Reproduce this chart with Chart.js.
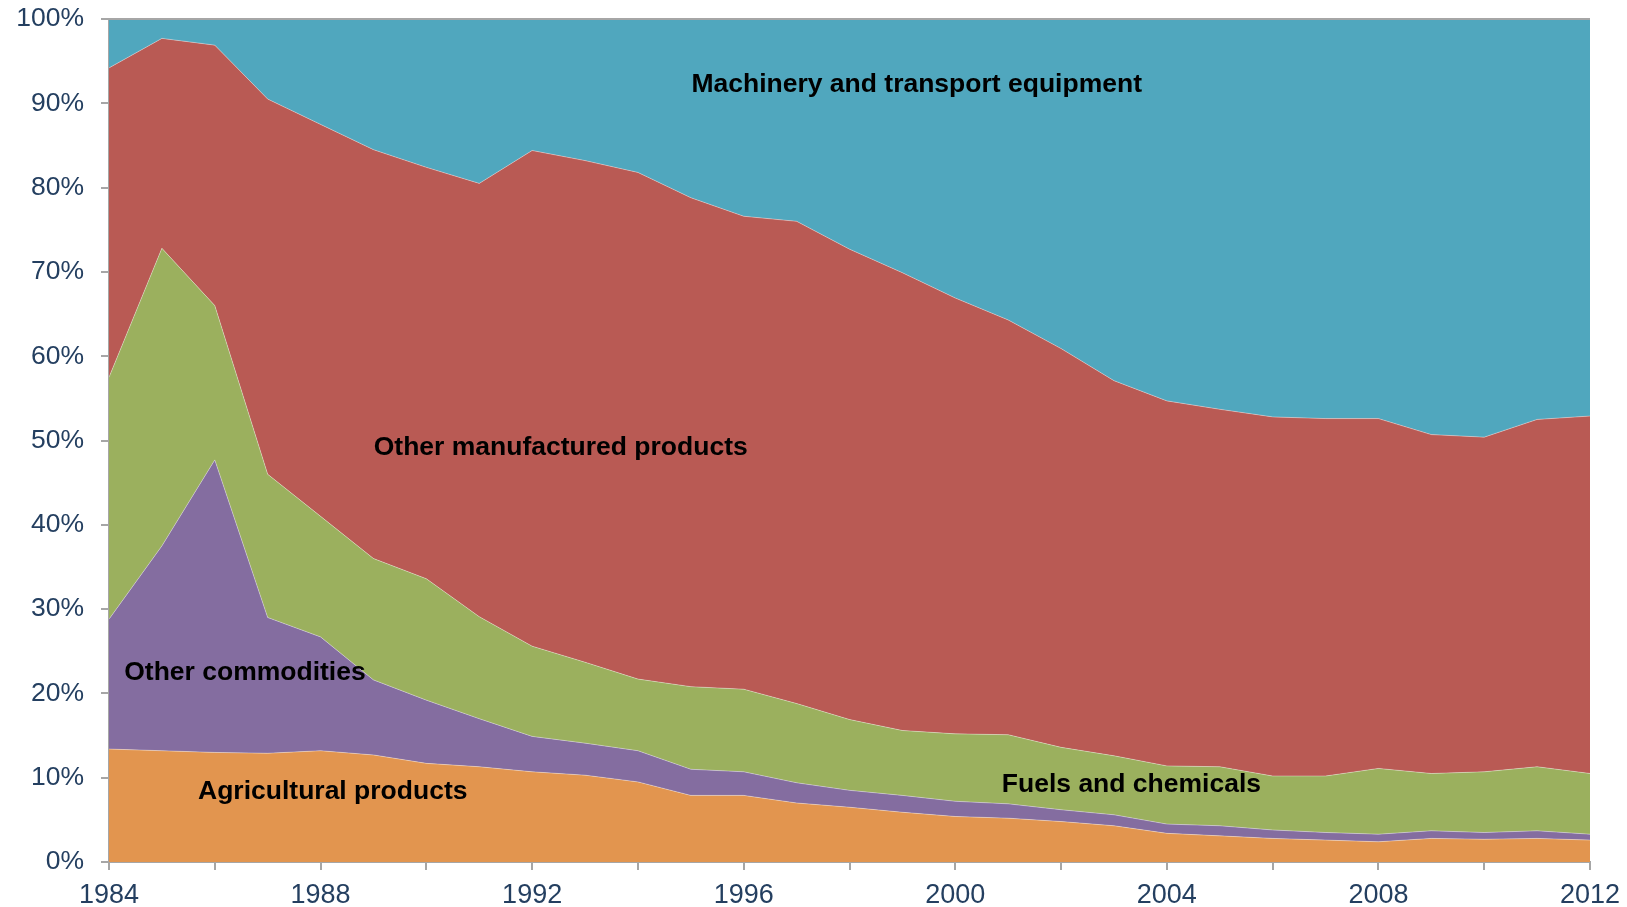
<!DOCTYPE html>
<html>
<head>
<meta charset="utf-8">
<title>Export composition 1984-2012</title>
<script src="https://cdn.jsdelivr.net/npm/chart.js@4.4.1/dist/chart.umd.min.js"></script>
<style>
  html, body { margin: 0; padding: 0; background: #fff; }
  #wrap { width: 1627px; height: 907px; }
</style>
</head>
<body>
<div id="wrap"><canvas id="chart" width="1627" height="907"></canvas></div>
<script>
// shares of total exports, %
const years = [1984, 1985, 1986, 1987, 1988, 1989, 1990, 1991, 1992, 1993, 1994, 1995, 1996, 1997, 1998,
  1999, 2000, 2001, 2002, 2003, 2004, 2005, 2006, 2007, 2008, 2009, 2010, 2011, 2012];

const agricultural = [13.4, 13.2, 13.0, 12.9, 13.2, 12.7, 11.7, 11.3, 10.7, 10.3, 9.5, 7.9, 7.9, 7.0, 6.5,
  5.9, 5.4, 5.2, 4.8, 4.3, 3.4, 3.1, 2.8, 2.6, 2.4, 2.8, 2.7, 2.8, 2.6];
const otherCommodities = [15.4, 24.3, 34.7, 16.1, 13.5, 8.9, 7.5, 5.7, 4.2, 3.8, 3.7, 3.1, 2.8, 2.4, 2.0,
  2.0, 1.8, 1.7, 1.4, 1.3, 1.1, 1.2, 1.0, 0.9, 0.9, 0.9, 0.8, 0.9, 0.7];
const fuelsChemicals = [28.7, 35.3, 18.3, 17.0, 14.3, 14.4, 14.4, 12.1, 10.7, 9.6, 8.5, 9.8, 9.8, 9.4, 8.4,
  7.7, 8.0, 8.2, 7.4, 7.0, 6.9, 7.0, 6.4, 6.7, 7.8, 6.8, 7.2, 7.6, 7.2];
const otherManufactured = [36.7, 24.9, 30.9, 44.5, 46.5, 48.5, 48.8, 51.4, 58.8, 59.5, 60.1, 58.0, 56.1, 57.2, 55.8,
  54.3, 51.7, 49.2, 47.3, 44.5, 43.3, 42.4, 42.6, 42.4, 41.5, 40.2, 39.7, 41.2, 42.4];
const machinery = [5.8, 2.3, 3.1, 9.5, 12.5, 15.5, 17.6, 19.5, 15.6, 16.8, 18.2, 21.2, 23.4, 24.0, 27.3,
  30.1, 33.1, 35.7, 39.1, 42.9, 45.3, 46.3, 47.2, 47.4, 47.4, 49.3, 49.6, 47.5, 47.1];

const yTicks = [0, 10, 20, 30, 40, 50, 60, 70, 80, 90, 100];

// in-chart labels, placed in data units (year, %)
const areaLabels = [
  { text: 'Machinery and transport equipment', year: 1999.27, pct: 92.2 },
  { text: 'Other manufactured products', year: 1992.54, pct: 49.2 },
  { text: 'Other commodities', year: 1986.57, pct: 22.4 },
  { text: 'Agricultural products', year: 1988.23, pct: 8.4 },
  { text: 'Fuels and chemicals', year: 2003.33, pct: 9.2 }
];

const FONT = '"Liberation Sans", Arial, sans-serif';
const AXIS_GREY = '#a6a6a6';
const TICK_TEXT = '#243f60';

function area(label, data, color, first) {
  return {
    label,
    data,
    backgroundColor: color,
    borderColor: 'rgba(255,255,255,0.35)',
    borderWidth: 1,
    pointRadius: 0,
    tension: 0,
    fill: first ? 'origin' : '-1'
  };
}

const labelPlugin = {
  id: 'areaLabels',
  afterDatasetsDraw(chart) {
    const { ctx, chartArea, scales: { x, y } } = chart;
    ctx.save();
    // top frame line
    ctx.strokeStyle = AXIS_GREY;
    ctx.lineWidth = 2;
    ctx.beginPath();
    ctx.moveTo(chartArea.left, chartArea.top);
    ctx.lineTo(chartArea.right, chartArea.top);
    ctx.stroke();

    ctx.font = 'bold 26.5px ' + FONT;
    ctx.fillStyle = '#000';
    ctx.textAlign = 'center';
    ctx.textBaseline = 'middle';
    areaLabels.forEach(l => {
      ctx.fillText(l.text, x.getPixelForValue(l.year - years[0]), y.getPixelForValue(l.pct));
    });
    ctx.restore();
  }
};

new Chart(document.getElementById('chart'), {
  type: 'line',
  data: {
    labels: years,
    datasets: [
      area('Agricultural products', agricultural, '#e2954f', true),
      area('Other commodities', otherCommodities, '#846da0'),
      area('Fuels and chemicals', fuelsChemicals, '#9bb05e'),
      area('Other manufactured products', otherManufactured, '#b95a54'),
      area('Machinery and transport equipment', machinery, '#50a7be')
    ]
  },
  options: {
    responsive: false,
    animation: false,
    layout: { padding: { top: 19, right: 37, left: 0, bottom: 0 } },
    plugins: {
      legend: { display: false },
      tooltip: { enabled: false }
    },
    scales: {
      x: {
        type: 'category',
        offset: false,
        border: { display: true, color: AXIS_GREY, width: 2 },
        grid: {
          drawOnChartArea: false,
          tickLength: 8,
          lineWidth: 2,
          color: ctx => (ctx.index % 2 === 0 ? AXIS_GREY : 'rgba(0,0,0,0)')
        },
        ticks: {
          autoSkip: false,
          maxRotation: 0,
          padding: 9,
          color: TICK_TEXT,
          font: { family: FONT, size: 27 },
          callback: (v, i) => (i % 4 === 0 ? years[i] : '')
        },
        afterFit: s => {
          s.height = 45;
          s.paddingLeft = 0;
          s.paddingRight = 0;
        }
      },
      y: {
        stacked: true,
        min: 0,
        max: 100,
        afterBuildTicks: s => { s.ticks = yTicks.map(v => ({ value: v })); },
        border: { display: true, color: AXIS_GREY, width: 2 },
        grid: { drawOnChartArea: false, tickLength: 8, lineWidth: 2, color: AXIS_GREY },
        ticks: {
          padding: 17,
          color: TICK_TEXT,
          font: { family: FONT, size: 26.5 },
          callback: v => v + '%'
        },
        afterFit: s => {
          s.width = 109;
          s.paddingTop = 0;
          s.paddingBottom = 0;
        }
      }
    }
  },
  plugins: [labelPlugin]
});
</script>
</body>
</html>
